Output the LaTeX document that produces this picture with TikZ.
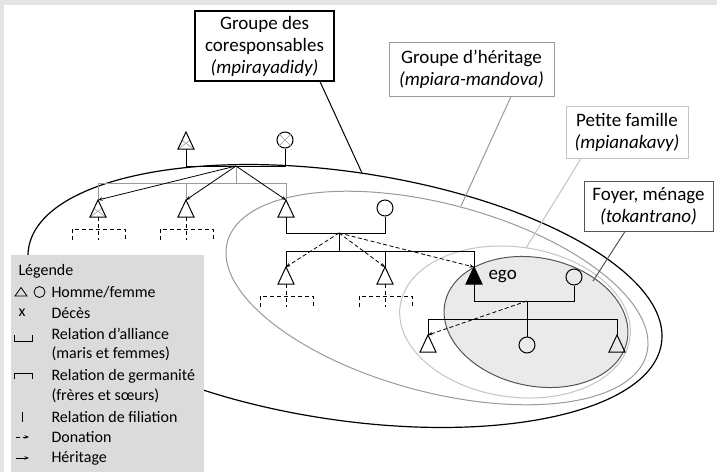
\documentclass[tikz,border=0pt]{standalone}
\usepackage{fontspec}
\setmainfont{Carlito}
\usetikzlibrary{arrows.meta}

\definecolor{framegray}{HTML}{E4E4E4}
\definecolor{keygray}{HTML}{DADBDA}
\definecolor{hergray}{HTML}{9A9A9A}
\definecolor{famgray}{HTML}{C4C4C4}
\definecolor{foygray}{HTML}{555555}
\definecolor{foyfill}{HTML}{EAEAEA}

\tikzset{
  man/.pic={
    \draw[pic actions] (0,0) -- (8,17) -- (-8,17) -- cycle;
    \coordinate (-apex) at (0,0);
    \coordinate (-base) at (0,17);
  },
  deadman/.pic={
    \draw[hergray,line width=0.6pt] (-8,17) -- (4,8.5) (8,17) -- (-4,8.5);
    \draw (0,0) -- (8,17) -- (-8,17) -- cycle;
    \coordinate (-apex) at (0,0);
    \coordinate (-base) at (0,17);
  },
  woman/.style={draw,circle,minimum size=16pt,inner sep=0pt},
  heir/.style={-{Stealth[length=4.5pt,width=3.5pt]},line width=0.8pt},
  gift/.style={heir,dash pattern=on 4pt off 2.5pt},
  unknown/.style={line width=0.8pt,dash pattern=on 4pt off 3pt},
  tag/.style={draw,fill=white,align=center,inner sep=0pt,font=\fontsize{19}{22}\selectfont},
  keytext/.style={anchor=west,inner sep=0pt,font=\fontsize{16}{20}\selectfont}
}

\begin{document}
\begin{tikzpicture}[x=1pt,y=-1pt,line width=1pt]
\useasboundingbox (0,0) rectangle (717,472);
\fill[framegray] (0,0) rectangle (717,472);
\fill[white] (4,5) rectangle (717,472);

% groupes
\draw[line width=1.2pt,rotate around={-8.5:(345,296)}] (345,296) ellipse [x radius=320pt,y radius=124pt];
\draw[hergray,rotate around={-15:(437,298)}] (437,298) ellipse [x radius=217pt,y radius=94pt];
\draw[famgray,rotate around={-8:(515,322)}] (515,322) ellipse [x radius=116pt,y radius=75pt];
\filldraw[draw=foygray,fill=foyfill,rotate around={-12:(536,322)}] (536,322) ellipse [x radius=93pt,y radius=64pt];

% grands-parents
\pic (gm) at (186,132) {deadman};
\node[woman] (gw) at (285,140) {};
\draw[hergray,line width=0.6pt] (gw.north west) -- (gw.south east) (gw.north east) -- (gw.south west);
\coordinate (j1) at (236,166);
\draw (gm-base) -- ++(0,17) -| (gw.south);

% enfants
\pic (c1) at (98,200) {deadman};
\pic (c2) at (186,200) {man};
\pic (c3) at (286,200) {man};
\draw[hergray] (j1) -- ++(0,17);
\draw[hergray] (c1-apex) -- ++(0,-17) -| (c3-apex);
\draw[hergray] (c2-apex) -- ++(0,-17);
\foreach \c in {c1,c2,c3}
  \draw[heir] (j1) -- (\c-apex);

% petits-enfants
\node[woman] (w3) at (385,208) {};
\coordinate (j2) at (339,233);
\draw (c3-base) -- ++(0,16) -| (w3.south);
\pic (d1) at (286,267) {man};
\pic (d2) at (385,267) {man};
\pic[fill=black] (ego) at (474,267) {man};
\node[anchor=west,inner sep=0pt,font=\fontsize{19}{22}\selectfont] (egoname) at (488,277) {ego};
\draw (d1-apex) -- ++(0,-16) -| (ego-apex);
\draw (j2) -- ++(0,18);
\draw (d2-apex) -- ++(0,-16);
\foreach \c in {d1,d2,ego}
  \draw[gift] (j2) -- (\c-apex);

\foreach \c in {c1,c2,d1,d2} {
  \draw[unknown] (\c-base) -- ++(0,23);
  \draw[unknown] (\c-base) ++(-26,23) -- ++(0,-11) -- ++(53,0) -- ++(0,11);
}

% foyer
\node[woman] (ew) at (574,277) {};
\coordinate (j3) at (527,301);
\draw (ego-base) -- ++(0,17) -| (ew.south);
\pic (e1) at (428,335) {man};
\node[woman] (e2) at (527,345) {};
\pic (e3) at (617,335) {man};
\draw (e1-apex) -- ++(0,-16) -| (e3-apex);
\draw (j3) -- (e2.north);
\draw[gift] (j3) -- (e1-apex);

% legende
\fill[keygray] (11,255) rectangle (204,472);
\node[keytext] (k0) at (18,271) {Légende};
\draw[line width=0.8pt] (15,296) -- (27,296) -- (21,287.5) -- cycle;
\draw[line width=0.8pt] (39.5,292) circle [radius=5.5pt];
\node[keytext] (k1) at (51,292) {Homme/femme};
\node[keytext,anchor=center] (kx) at (22,313) {x};
\node[keytext] (k2) at (51,313) {Décès};
\draw[line width=0.8pt] (14,335) -- (14,341) -- (32,341) -- (32,335);
\node[keytext] (k3) at (51,334) {Relation d’alliance};
\node[keytext] (k4) at (51,354) {(maris et femmes)};
\draw[line width=0.8pt] (14,379) -- (14,373.5) -- (32,373.5) -- (32,379);
\node[keytext] (k5) at (51,376) {Relation de germanité};
\node[keytext] (k6) at (51,396) {(frères et sœurs)};
\draw[line width=0.8pt] (22.5,412) -- (22.5,422);
\node[keytext] (k7) at (51,417) {Relation de filiation};
\draw[gift] (16,437) -- (29,437);
\node[keytext] (k8) at (51,437) {Donation};
\draw[heir] (16,458) -- (29,458);
\node[keytext] (k9) at (51,458) {Héritage};

% etiquettes
\node[tag,line width=1.2pt,minimum width=139pt,minimum height=70pt] (t1) at (264.5,46) {Groupe des\\coresponsables\\\textit{(mpirayadidy)}};
\node[tag,draw=hergray,minimum width=165pt,minimum height=54pt] (t2) at (471.5,69) {Groupe d’héritage\\\textit{(mpiara-mandova)}};
\node[tag,draw=famgray,minimum width=122pt,minimum height=52pt] (t3) at (627,132) {Petite famille\\\textit{(mpianakavy)}};
\node[tag,draw=foygray,minimum width=129pt,minimum height=50pt] (t4) at (648.5,206) {Foyer, ménage\\\textit{(tokantrano)}};

\coordinate (p1) at (362,173);
\coordinate (p2) at (461,206);
\coordinate (p3) at (526,248);
\coordinate (p4) at (593,281);
\draw ([xshift=55.5pt]t1.south) -- (p1);
\draw[hergray] ([xshift=39.5pt]t2.south) -- (p2);
\draw[famgray] ([xshift=-46pt]t3.south) -- (p3);
\draw[foygray] ([xshift=-23.5pt]t4.south) -- (p4);

\end{tikzpicture}
\end{document}
